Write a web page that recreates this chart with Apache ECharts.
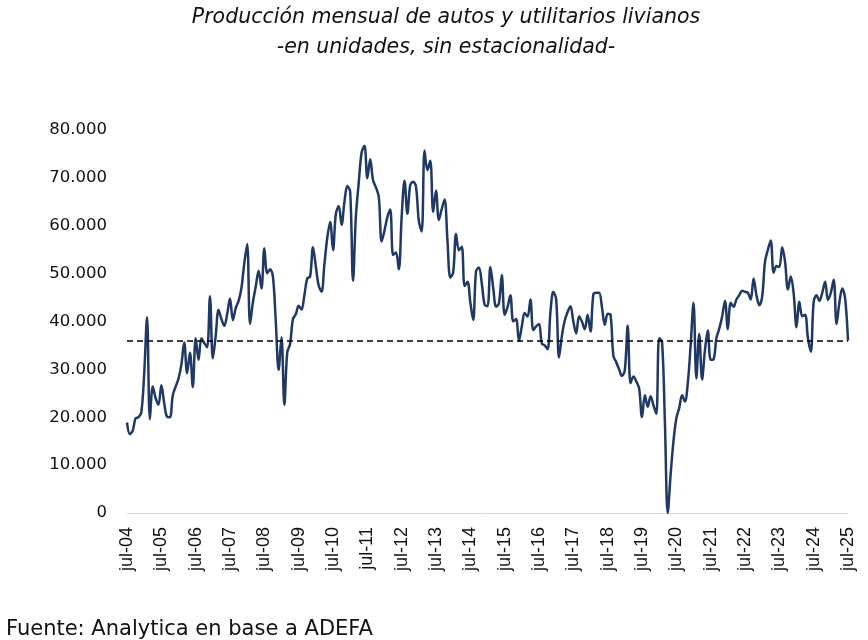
<!DOCTYPE html>
<html>
<head>
<meta charset="utf-8">
<script src="https://cdn.jsdelivr.net/npm/echarts@6/dist/echarts.min.js"></script>
<style>
html,body{margin:0;padding:0;background:#fff;}
#chart{width:868px;height:640px;}
</style>
</head>
<body>
<div id="chart"></div>
<script>
// Monthly production (units, seasonally adjusted), jul-04 .. jul-25
const prod2004_2007 = [
  18900,16500,17200,19800,20000,21000,29000,40900,19600,26400,24000,22600,
  26700,23000,20100,20000,24600,26400,28100,31000,35600,29200,33500,26300,
  36500,32000,36500,35500,34600,45300,32300,37000,42400,40500,39100,41500,
  44800,40300,42800,44300,47000,52200
];
const prod2008_2010 = [
  56200,39500,44000,47300,50600,46900,55300,50100,50900,49400,40000,29900,
  36700,22600,33500,35300,40500,41500,43300,42500,45500,49000,49400,55500,
  51500,47500,46200,52000,57500,60800,54900,62500,64100,60200,65000,68300,
  67100,48500,62000,69000
];
const prod2011_2013 = [
  75300,76700,69900,73900,69500,68000,66100,56700,59000,61800,63400,53900,
  54400,50900,61900,69400,62500,68500,69200,68200,61000,58800,75700,71600,
  73600,62900,67300,61200,63500,65500,57000,49200,50200,58300,54900,55600,
  47400,48300,44000,40300,50500,51300
];
const prod2014_2017 = [
  48000,43500,43200,51400,47000,43100,43800,49700,41400,43000,45500,40000,
  40500,36000,39000,41800,41000,44600,38200,39000,39500,35400,35000,34200,
  42000,46200,44600,32500,37000,40200,42000,43200,40000,37500,41100,40000,
  38400,41400,37900,45700,46000,46000
];
const prod2018_2021 = [
  43000,39300,41600,41400,32800,31500,30000,28600,29900,39100,27100,28500,
  27500,26000,20000,24600,22200,24400,22500,20700,36500,35800,19000,0,
  8000,15000,19800,21900,24600,23300,27100,35000,43900,28100,37400,27900,
  34000,38100,32000,32100,36500,38500
];
const prod2022_2025 = [
  41000,44300,38400,43900,43100,44600,45500,46400,46200,46000,44600,49000,
  45500,43400,45200,52500,55000,56900,50200,51600,51400,55500,52500,46700,
  49400,45900,38800,44100,41100,41400,36500,33700,44100,45500,44300,46000,
  48300,44500,46000,48700,39500,44000,46900,44800,36000
];
const production = [].concat(prod2004_2007, prod2008_2010, prod2011_2013,
                             prod2014_2017, prod2018_2021, prod2022_2025);

const monthNames = ['ene','feb','mar','abr','may','jun','jul','ago','sep','oct','nov','dic'];
const startYear = 2004, startMonth = 6; // jul-04
const categories = production.map((_, i) => {
  const m = (startMonth + i) % 12;
  const y = startYear + Math.floor((startMonth + i) / 12);
  return monthNames[m] + '-' + String(y % 100).padStart(2, '0');
});
const yTicks = [0,10000,20000,30000,40000,50000,60000,70000,80000];
const lastValue = production[production.length - 1];

const fmt = v => String(v).replace(/\B(?=(\d{3})+(?!\d))/g, '.');

const chart = echarts.init(document.getElementById('chart'), null, {renderer:'canvas'});
chart.setOption({
  animation: false,
  backgroundColor: '#ffffff',
  title: [
    {
      text: 'Producción mensual de autos y utilitarios livianos\n-en unidades, sin estacionalidad-',
      left: 441, top: -2, textAlign: 'center',
      textStyle: {fontFamily: 'DejaVu Sans', fontSize: 20.5, fontStyle: 'italic', fontWeight: 'normal', color: '#111', lineHeight: 30}
    },
    {
      text: 'Fuente: Analytica en base a ADEFA',
      left: 1, top: 614,
      textStyle: {fontFamily: 'DejaVu Sans', fontSize: 21, fontWeight: 'normal', color: '#111'}
    }
  ],
  grid: {left: 127, right: 20, top: 130, bottom: 127, containLabel: false},
  xAxis: {
    type: 'category',
    data: categories,
    boundaryGap: false,
    axisLine: {show: true, lineStyle: {color: '#d9d9d9', width: 1}},
    axisTick: {show: false},
    axisLabel: {
      interval: 11, rotate: 90, margin: 14,
      fontFamily: 'Liberation Sans', fontSize: 18, color: '#111'
    },
    splitLine: {show: false}
  },
  yAxis: {
    type: 'value',
    min: yTicks[0], max: yTicks[yTicks.length - 1], interval: 10000,
    axisLine: {show: false},
    axisTick: {show: false},
    splitLine: {show: false},
    axisLabel: {
      formatter: v => fmt(v), margin: 20,
      fontFamily: 'DejaVu Sans', fontSize: 16.5, color: '#111'
    }
  },
  series: [{
    type: 'line',
    data: production,
    smooth: 0.35,
    symbol: 'none',
    clip: false,
    lineStyle: {color: '#1f3864', width: 2.5},
    markLine: {
      silent: true,
      symbol: ['none', 'none'],
      label: {show: false},
      lineStyle: {color: '#000', type: [6, 4], width: 1.6},
      data: [{yAxis: lastValue}]
    }
  }]
});
</script>
</body>
</html>
